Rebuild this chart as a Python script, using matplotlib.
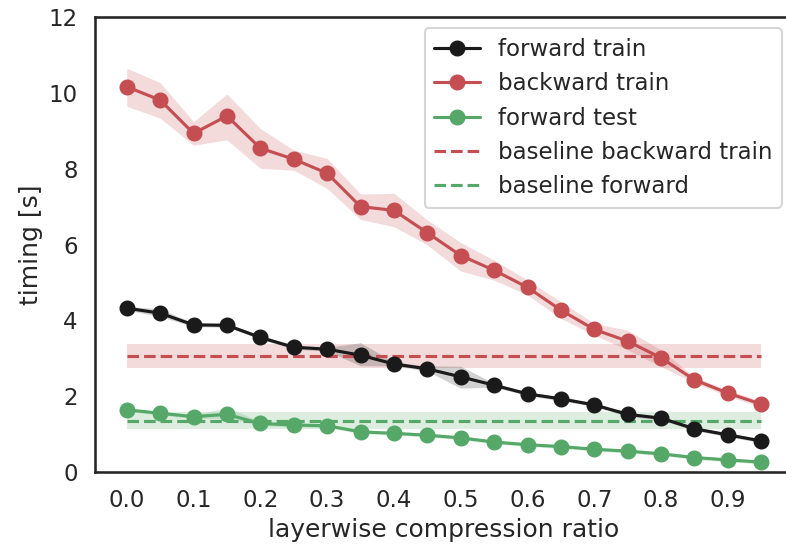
import numpy as np
import matplotlib.pyplot as plt
import seaborn as sns

# data
ratio = [0.0, 0.05, 0.1, 0.15, 0.2, 0.25, 0.3, 0.35, 0.4, 0.45,
         0.5, 0.55, 0.6, 0.65, 0.7, 0.75, 0.8, 0.85, 0.9, 0.95]

forward_train = [4.32, 4.19, 3.88, 3.87, 3.55, 3.29, 3.24, 3.08, 2.85, 2.72,
                 2.51, 2.29, 2.06, 1.93, 1.77, 1.52, 1.42, 1.14, 0.98, 0.82]
forward_train_lo = [4.27, 4.10, 3.83, 3.82, 3.50, 3.24, 3.19, 2.80, 2.80, 2.66,
                    2.21, 2.24, 2.01, 1.88, 1.72, 1.47, 1.37, 1.09, 0.93, 0.77]
forward_train_hi = [4.37, 4.30, 3.93, 3.92, 3.60, 3.34, 3.29, 3.41, 2.90, 2.80,
                    2.79, 2.34, 2.11, 1.98, 1.82, 1.57, 1.47, 1.19, 1.03, 0.87]

backward_train = [10.16, 9.81, 8.93, 9.39, 8.54, 8.25, 7.88, 7.00, 6.90, 6.31,
                  5.71, 5.32, 4.87, 4.27, 3.76, 3.45, 3.01, 2.43, 2.08, 1.79]
backward_train_lo = [9.65, 9.33, 8.62, 8.76, 8.01, 7.96, 7.48, 6.66, 6.47, 5.99,
                     5.30, 5.06, 4.67, 4.05, 3.61, 3.22, 2.78, 2.35, 2.00, 1.71]
backward_train_hi = [10.65, 10.27, 9.24, 9.97, 9.06, 8.49, 8.27, 7.33, 7.35, 6.65,
                     6.05, 5.59, 5.06, 4.49, 3.92, 3.74, 3.22, 2.51, 2.16, 1.87]

forward_test = [1.64, 1.55, 1.46, 1.52, 1.28, 1.24, 1.22, 1.06, 1.02, 0.97,
                0.90, 0.79, 0.72, 0.67, 0.60, 0.55, 0.48, 0.38, 0.32, 0.26]
forward_test_lo = [1.60, 1.50, 1.41, 1.42, 1.22, 1.19, 1.17, 1.01, 0.97, 0.92,
                   0.85, 0.74, 0.67, 0.62, 0.55, 0.50, 0.43, 0.33, 0.27, 0.21]
forward_test_hi = [1.68, 1.60, 1.51, 1.70, 1.34, 1.29, 1.27, 1.11, 1.07, 1.02,
                   0.95, 0.84, 0.77, 0.72, 0.65, 0.60, 0.53, 0.43, 0.37, 0.31]

baseline_backward = [3.07, 2.75, 3.38]   # mean, lo, hi
baseline_forward = [1.35, 1.13, 1.57]

xticks = [0.0, 0.1, 0.2, 0.3, 0.4, 0.5, 0.6, 0.7, 0.8, 0.9]

sns.set_theme(style="white", context="talk")
sns.set_color_codes("deep")
plt.rcParams['font.family'] = ['DejaVu Sans']

fig = plt.figure(figsize=(7.86, 5.52), dpi=100)
ax = fig.add_axes([0.1209, 0.1449, 0.888, 0.8243])

x = np.array(ratio)
series = [
    ("forward train", forward_train, forward_train_lo, forward_train_hi, "k"),
    ("backward train", backward_train, backward_train_lo, backward_train_hi, "r"),
    ("forward test", forward_test, forward_test_lo, forward_test_hi, "g"),
]
for label, mean, lo, hi, c in series:
    ax.plot(x, mean, marker="o", ms=10.5, lw=2.25, color=c, label=label, zorder=4)
    ax.fill_between(x, lo, hi, color=c, alpha=0.2, lw=0, zorder=2)

for label, (m, lo, hi), c in [("baseline backward train", baseline_backward, "r"),
                              ("baseline forward", baseline_forward, "g")]:
    ax.plot([x[0], x[-1]], [m, m], ls="--", lw=2.25, color=c, label=label, zorder=3)
    ax.fill_between([x[0], x[-1]], [lo, lo], [hi, hi], color=c, alpha=0.2, lw=0, zorder=1)

ax.set_ylim(0, 12)
ax.set_xlim(-0.0475, 0.9975)
ax.set_xticks(xticks)
ax.set_xticklabels([f"{t:.1f}" for t in xticks])
ax.set_xlabel("layerwise compression ratio")
ax.set_ylabel("timing [s]")
ax.legend(loc="upper right")

fig.savefig("out.png", dpi=100)
